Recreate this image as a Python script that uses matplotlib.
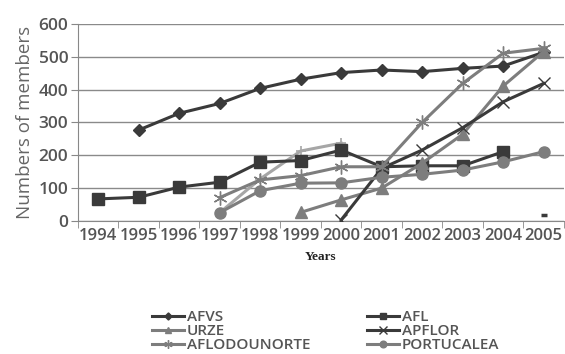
import numpy as np
import matplotlib
matplotlib.use("Agg")
import matplotlib.pyplot as plt

nan = np.nan

# ── data ──
years = [1994, 1995, 1996, 1997, 1998, 1999, 2000, 2001, 2002, 2003, 2004, 2005]
afvs = [nan, 277, 328, 358, 404, 432, 452, 460, 455, 465, 472, 514]
afl = [67, 72, 103, 118, 179, 184, 216, 165, 168, 168, 211, nan]
urze = [nan, nan, nan, nan, nan, 26, 64, 100, 176, 264, 411, 516]
apflor = [nan, nan, nan, nan, nan, nan, 3, 160, 216, 284, 363, 419]
aflodounorte = [nan, nan, nan, 71, 125, 138, 165, 165, 300, 419, 511, 526]
portucalea = [nan, nan, nan, 25, 92, 115, 116, 133, 142, 155, 180, 211]
# partly visible series whose legend entry is cut off
extra = [nan, nan, nan, 25, 128, 213, 237, nan, nan, nan, nan, nan]
stray_2005 = 18

plt.rcParams["font.family"] = ["Open Sans", "DejaVu Sans"]

DARK = "#3a3a3a"
MID = "#7d7d7d"
LIGHT = "#a6a6a6"
TXT = "#555555"

fig = plt.figure(figsize=(5.65, 3.54), dpi=100)
ax = fig.add_axes([0.138, 0.376, 0.860, 0.556])

x = np.arange(len(years))
lw = 2.2

ax.plot(x, extra, color=LIGHT, lw=lw, marker="+", ms=7, mew=1.2, zorder=2)
ax.plot(x, afvs, color=DARK, lw=lw, marker="D", ms=6, label="AFVS", zorder=3)
ax.plot(x, afl, color=DARK, lw=lw, marker="s", ms=8, label="AFL", zorder=3)
ax.plot(x, urze, color=MID, lw=lw, marker="^", ms=8, label="URZE", zorder=3)
ax.plot(x, apflor, color=DARK, lw=lw, marker="x", ms=9, mew=1.0,
        label="APFLOR", zorder=3)
ax.plot(x, aflodounorte, color=MID, lw=lw, marker=(6, 2, 0), ms=10, mew=1.0,
        label="AFLODOUNORTE", zorder=3)
ax.plot(x, portucalea, color=MID, lw=lw, marker="o", ms=8,
        label="PORTUCALEA", zorder=3)
ax.plot([x[-1]], [stray_2005], color=DARK, marker="_", ms=5, mew=2.5, ls="none")

ax.set_xlim(-0.5, len(years) - 0.5)
ax.set_ylim(0, 600)
ax.set_yticks(range(0, 601, 100))
ax.set_xticks(x)
ax.set_xticklabels([str(y) for y in years])
ax.set_xticks(np.arange(-0.5, len(years), 1.0), minor=True)
ax.tick_params(axis="x", which="major", length=0, pad=5, labelsize=12,
               labelcolor=TXT)
ax.tick_params(axis="x", which="minor", length=5, color="#888888", direction="out")
ax.tick_params(axis="y", length=5, color="#888888", labelsize=12.5,
               labelcolor=TXT, pad=2)
for lab in ax.get_xticklabels() + ax.get_yticklabels():
    lab.set_fontweight("semibold")

ax.grid(axis="y", color="#8a8a8a", lw=1.0)
ax.set_axisbelow(True)
for side in ("top", "right"):
    ax.spines[side].set_visible(False)
for side in ("left", "bottom"):
    ax.spines[side].set_color("#888888")

ax.set_ylabel("Numbers of members", fontsize=13.5, color="#666666", labelpad=3)
ax.set_xlabel("Years", family=["Liberation Serif"], fontweight="bold",
              fontsize=9.5, color="#222222", labelpad=5)

handles, labels = ax.get_legend_handles_labels()
order = ["AFVS", "URZE", "AFLODOUNORTE", "AFL", "APFLOR", "PORTUCALEA"]
hmap = dict(zip(labels, handles))
leg = fig.legend([hmap[k] for k in order], order, ncol=2,
                 loc="lower left", bbox_to_anchor=(0.255, -0.016),
                 frameon=False, fontsize=11, borderpad=0, labelspacing=0.0,
                 handlelength=2.1, handletextpad=0.2, columnspacing=3.7,
                 markerscale=0.6)
for t in leg.get_texts():
    t.set_color(TXT)
    t.set_fontweight("semibold")

fig.savefig("out.png", dpi=100)
